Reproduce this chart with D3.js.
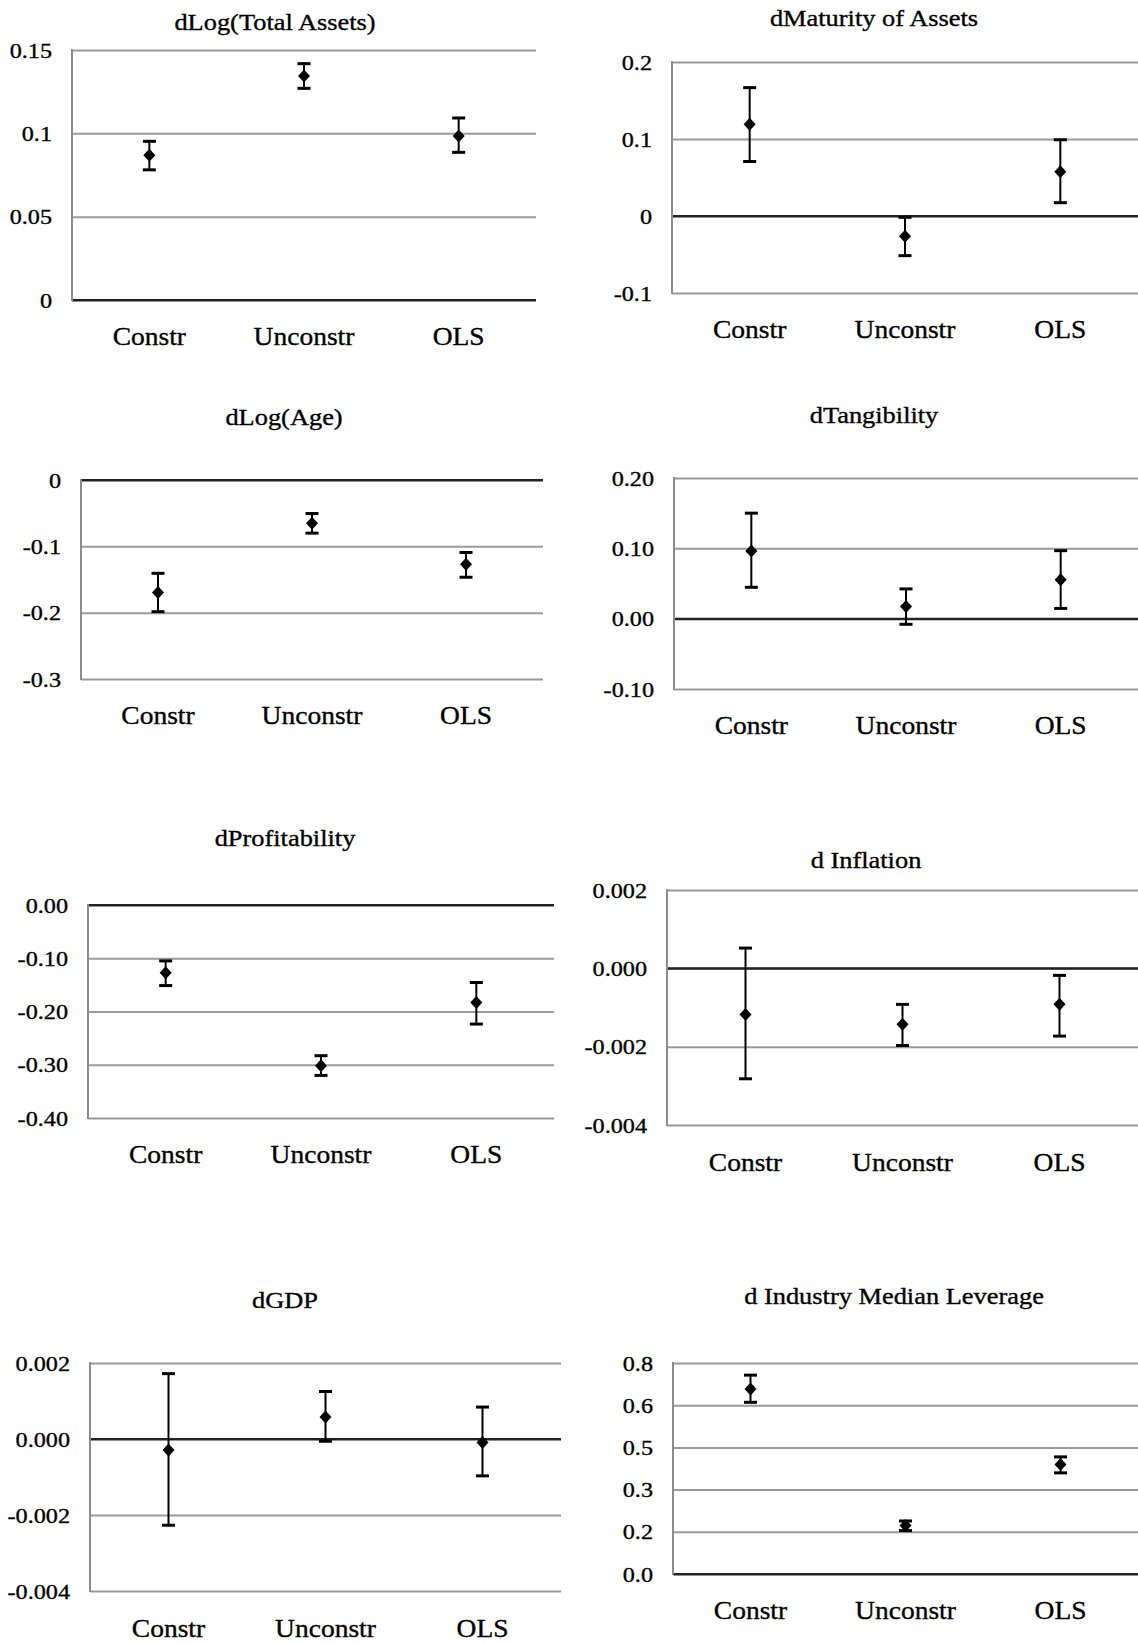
<!DOCTYPE html>
<html>
<head>
<meta charset="utf-8">
<script src="https://cdn.jsdelivr.net/npm/d3@7"></script>
<style>
  body { margin: 0; background: #fff; }
  svg { display: block; }
  text { font-family: "Liberation Serif", "Times New Roman", serif; fill: #000; stroke: #000; stroke-width: 0.35px; }
</style>
</head>
<body>
<svg id="chart" width="1138" height="1644"></svg>
<script>
// categories shared by all panels
const categories = ['Constr', 'Unconstr', 'OLS'];

const titles = ['dLog(Total Assets)', 'dMaturity of Assets', 'dLog(Age)', 'dTangibility',
  'dProfitability', 'd Inflation', 'dGDP', 'd Industry Median Leverage'];

// point estimates and error bar ends, per panel (Constr, Unconstr, OLS)
const totalAssetsPoint = [0.0868, 0.1344, 0.0984];
const totalAssetsLow   = [0.0781, 0.1270, 0.0886];
const totalAssetsHigh  = [0.0952, 0.1418, 0.1092];

const maturityPoint = [0.119, -0.0262, 0.0575];
const maturityLow   = [0.0708, -0.0515, 0.0173];
const maturityHigh  = [0.1667, -0.0017, 0.099];

const agePoint = [-0.1696, -0.0653, -0.127];
const ageLow   = [-0.1985, -0.0801, -0.1466];
const ageHigh  = [-0.1407, -0.0505, -0.1093];

const tangibilityPoint = [0.0962, 0.0174, 0.0554];
const tangibilityLow   = [0.0446, -0.008, 0.0146];
const tangibilityHigh  = [0.150, 0.0423, 0.0967];

const profitabilityPoint = [-0.127, -0.302, -0.1833];
const profitabilityLow   = [-0.1513, -0.320, -0.2236];
const profitabilityHigh  = [-0.105, -0.283, -0.1455];

const inflationPoint = [-0.00118, -0.00143, -0.00092];
const inflationLow   = [-0.00282, -0.00197, -0.00173];
const inflationHigh  = [0.000517, -0.00092, -0.00018];

const gdpPoint = [-0.00029, 0.00058, -0.00009];
const gdpLow   = [-0.00227, -0.00006, -0.00097];
const gdpHigh  = [0.00172, 0.00125, 0.00084];

const leveragePoint = [0.701, 0.1835, 0.415];
const leverageLow   = [0.651, 0.1646, 0.3835];
const leverageHigh  = [0.754, 0.201, 0.444];

// y ticks and their printed labels
const totalAssetsTicks = [0, 0.05, 0.1, 0.15];
const totalAssetsTickLabels = ['0', '0.05', '0.1', '0.15'];
const maturityTicks = [-0.1, 0, 0.1, 0.2];
const maturityTickLabels = ['-0.1', '0', '0.1', '0.2'];
const ageTicks = [-0.3, -0.2, -0.1, 0];
const ageTickLabels = ['-0.3', '-0.2', '-0.1', '0'];
const tangibilityTicks = [-0.1, 0, 0.1, 0.2];
const tangibilityTickLabels = ['-0.10', '0.00', '0.10', '0.20'];
const profitabilityTicks = [-0.4, -0.3, -0.2, -0.1, 0];
const profitabilityTickLabels = ['-0.40', '-0.30', '-0.20', '-0.10', '0.00'];
const inflationTicks = [-0.004, -0.002, 0, 0.002];
const inflationTickLabels = ['-0.004', '-0.002', '0.000', '0.002'];
const gdpTicks = [-0.004, -0.002, 0, 0.002];
const gdpTickLabels = ['-0.004', '-0.002', '0.000', '0.002'];
const leverageTicks = [0, 0.16, 0.32, 0.48, 0.64, 0.8];
const leverageTickLabels = ['0.0', '0.2', '0.3', '0.5', '0.6', '0.8'];

const series = [
  [totalAssetsPoint, totalAssetsLow, totalAssetsHigh, totalAssetsTicks, totalAssetsTickLabels],
  [maturityPoint, maturityLow, maturityHigh, maturityTicks, maturityTickLabels],
  [agePoint, ageLow, ageHigh, ageTicks, ageTickLabels],
  [tangibilityPoint, tangibilityLow, tangibilityHigh, tangibilityTicks, tangibilityTickLabels],
  [profitabilityPoint, profitabilityLow, profitabilityHigh, profitabilityTicks, profitabilityTickLabels],
  [inflationPoint, inflationLow, inflationHigh, inflationTicks, inflationTickLabels],
  [gdpPoint, gdpLow, gdpHigh, gdpTicks, gdpTickLabels],
  [leveragePoint, leverageLow, leverageHigh, leverageTicks, leverageTickLabels]
];

// panel layout: plot box, title centre and category label line
const layout = [
  { left: 72,  right: 536,  top: 50,   bottom: 300,  titleX: 275, titleY: 22,   labelY: 337 },
  { left: 672, right: 1138, top: 62,   bottom: 293,  titleX: 874, titleY: 18,   labelY: 330 },
  { left: 81,  right: 543,  top: 480,  bottom: 679,  titleX: 284, titleY: 417,  labelY: 716 },
  { left: 674, right: 1138, top: 478,  bottom: 689,  titleX: 874, titleY: 415,  labelY: 726 },
  { left: 88,  right: 554,  top: 905,  bottom: 1118, titleX: 285, titleY: 838,  labelY: 1155 },
  { left: 667, right: 1138, top: 890,  bottom: 1125, titleX: 866, titleY: 860,  labelY: 1163 },
  { left: 90,  right: 561,  top: 1363, bottom: 1591, titleX: 285, titleY: 1300, labelY: 1629 },
  { left: 673, right: 1138, top: 1363, bottom: 1574, titleX: 894, titleY: 1296, labelY: 1611 }
];

const stretch = 1.1; // the source lettering is a bit wider than Times

const svg = d3.select('#chart');

series.forEach(([point, low, high, ticks, tickLabels], i) => {
  const L = layout[i];
  const g = svg.append('g');

  const x = d3.scaleBand()
    .domain(categories)
    .range([L.left, L.right]);

  const y = d3.scaleLinear()
    .domain(d3.extent(ticks))
    .range([L.bottom, L.top]);

  // gridlines + tick labels
  const yAxis = d3.axisLeft(y)
    .tickValues(ticks)
    .tickSize(-(L.right - L.left))
    .tickSizeOuter(0)
    .tickPadding(0)
    .tickFormat((d, k) => tickLabels[k]);

  const ag = g.append('g')
    .attr('transform', `translate(${L.left},0)`)
    .call(yAxis);
  ag.select('.domain').remove();
  ag.selectAll('.tick line')
    .attr('stroke', d => d === 0 ? '#222' : '#9a9a9a')
    .attr('stroke-width', 2);
  ag.selectAll('.tick text')
    .attr('x', null)
    .attr('transform', `translate(-20,0) scale(${stretch},1)`)
    .style('font-family', '"Liberation Serif", serif')
    .style('font-size', '22px');

  // zero line on top of the others
  g.append('line')
    .attr('x1', L.left).attr('x2', L.right)
    .attr('y1', y(0)).attr('y2', y(0))
    .attr('stroke', '#222').attr('stroke-width', 2);

  // left axis line
  g.append('line')
    .attr('x1', L.left).attr('x2', L.left)
    .attr('y1', y.range()[1] - 1).attr('y2', y.range()[0] + 1)
    .attr('stroke', '#8c8c8c').attr('stroke-width', 2);

  // title
  g.append('text')
    .attr('transform', `translate(${L.titleX},${L.titleY}) scale(${stretch},1)`)
    .attr('text-anchor', 'middle')
    .attr('dominant-baseline', 'central')
    .style('font-size', '24px')
    .text(titles[i]);

  // category labels
  g.selectAll('.cat')
    .data(categories)
    .enter()
    .append('text')
    .attr('class', 'cat')
    .attr('transform', d => `translate(${x(d) + x.bandwidth() / 2},${L.labelY}) scale(${stretch},1)`)
    .attr('text-anchor', 'middle')
    .attr('dominant-baseline', 'central')
    .style('font-size', '25px')
    .text(d => d);

  const rows = categories.map((c, k) => ({ c, p: point[k], lo: low[k], hi: high[k] }));
  const cx = d => x(d.c) + x.bandwidth() / 2;
  const capW = 13;

  const bars = g.selectAll('.bar')
    .data(rows)
    .enter()
    .append('g')
    .attr('class', 'bar');

  bars.append('line')
    .attr('x1', cx).attr('x2', cx)
    .attr('y1', d => y(d.lo)).attr('y2', d => y(d.hi))
    .attr('stroke', '#000').attr('stroke-width', 2);

  bars.append('line')
    .attr('x1', d => cx(d) - capW / 2).attr('x2', d => cx(d) + capW / 2)
    .attr('y1', d => y(d.hi)).attr('y2', d => y(d.hi))
    .attr('stroke', '#000').attr('stroke-width', 3);

  bars.append('line')
    .attr('x1', d => cx(d) - capW / 2).attr('x2', d => cx(d) + capW / 2)
    .attr('y1', d => y(d.lo)).attr('y2', d => y(d.lo))
    .attr('stroke', '#000').attr('stroke-width', 3);

  bars.append('path')
    .attr('transform', d => `translate(${cx(d)},${y(d.p)})`)
    .attr('d', 'M0,-6.5L6,0L0,6.5L-6,0Z')
    .attr('fill', '#000');
});
</script>
</body>
</html>
